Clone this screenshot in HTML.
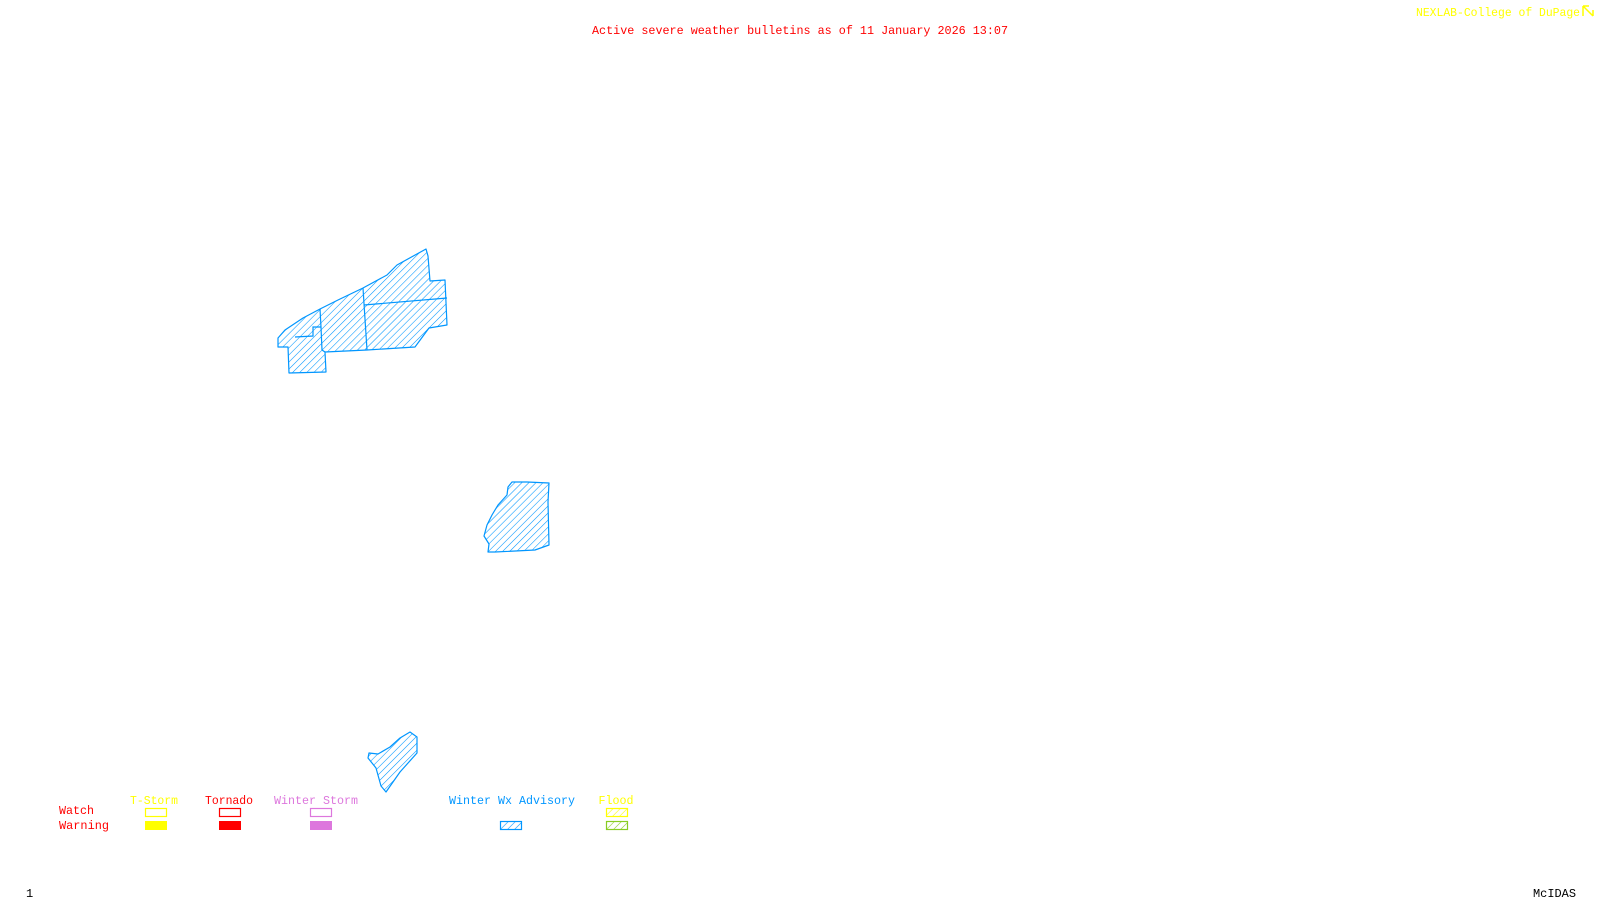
<!DOCTYPE html>
<html><head><meta charset="utf-8"><style>
html,body{margin:0;padding:0;background:#fff;width:1600px;height:900px;overflow:hidden}
svg{display:block}
text{font-family:"Liberation Mono","DejaVu Sans Mono",monospace;font-size:12px}
</style></head><body>
<svg width="1600" height="900" viewBox="0 0 1600 900" xmlns="http://www.w3.org/2000/svg">
<defs>
<pattern id="h" patternUnits="userSpaceOnUse" width="5" height="5" patternTransform="rotate(45)">
<line x1="0" y1="0" x2="0" y2="5" stroke="#0096ff" stroke-width="1.1"/>
</pattern>
<pattern id="hy" patternUnits="userSpaceOnUse" width="5" height="5" patternTransform="rotate(45)">
<line x1="0" y1="0" x2="0" y2="5" stroke="#ffff00" stroke-width="1.2"/>
</pattern>
<pattern id="hg" patternUnits="userSpaceOnUse" width="5" height="5" patternTransform="rotate(45)">
<line x1="0" y1="0" x2="0" y2="5" stroke="#88cc22" stroke-width="1.2"/>
</pattern>
<pattern id="hb" patternUnits="userSpaceOnUse" width="5" height="5" patternTransform="rotate(45)">
<line x1="0" y1="0" x2="0" y2="5" stroke="#0096ff" stroke-width="1.2"/>
</pattern>
</defs>
<text x="800" y="34" fill="#ff0000" text-anchor="middle" textLength="416" lengthAdjust="spacingAndGlyphs">Active severe weather bulletins as of 11 January 2026 13:07</text>
<text x="1416" y="16" fill="#ffff00" textLength="164" lengthAdjust="spacingAndGlyphs">NEXLAB-College of DuPage</text>
<path d="M1583 6h6M1583 6v10M1583 6l10 10M1593 10v6" stroke="#ffff00" stroke-width="1.5" fill="none"/>

<g stroke="#0096ff" stroke-width="1.2" fill="url(#h)" stroke-linejoin="round">
<polygon points="278,338 285,330 303,318 320,309 338,300 363,288 387,275 397,265 426,249 428,256 430,281 445,280 447,325 429,328 415,347 367,350 325,352 326,372 289,373 288,347 278,347"/>
<polygon points="512,482 527,482 549,483 548,502 549,545 535,550 495,552 488,552 489,544 484,536 487,525 492,515 498,505 507,495 508,487"/>
<polygon points="410,732 417,737 417,753 400,772 386,792 381,786 376,768 368,758 369,753 378,754 390,747 400,738"/>
</g>
<g stroke="#0096ff" stroke-width="1.2" fill="none">
<polyline points="320,309 321,327 322,350 325,352"/>
<polyline points="363,288 367,350"/>
<polyline points="364,305 447,298"/>
<polyline points="295,337 313,336 313,327 321,327"/>
</g>

<g text-anchor="middle">
<text x="154" y="804" fill="#ffff00" textLength="48" lengthAdjust="spacingAndGlyphs">T-Storm</text>
<text x="229" y="804" fill="#ff0000" textLength="48" lengthAdjust="spacingAndGlyphs">Tornado</text>
<text x="316" y="804" fill="#dd77dd" textLength="84" lengthAdjust="spacingAndGlyphs">Winter Storm</text>
<text x="512" y="804" fill="#0096ff" textLength="126" lengthAdjust="spacingAndGlyphs">Winter Wx Advisory</text>
<text x="616" y="804" fill="#ffff00" textLength="35" lengthAdjust="spacingAndGlyphs">Flood</text>
</g>
<text x="59" y="814" fill="#ff0000" textLength="35" lengthAdjust="spacingAndGlyphs">Watch</text>
<text x="59" y="829" fill="#ff0000" textLength="50" lengthAdjust="spacingAndGlyphs">Warning</text>
<rect x="145.5" y="808.5" width="21" height="8" fill="none" stroke="#ffff00" stroke-width="1.2"/>
<rect x="145" y="821" width="22" height="9" fill="#ffff00"/>
<rect x="219.5" y="808.5" width="21" height="8" fill="none" stroke="#ff0000" stroke-width="1.2"/>
<rect x="219" y="821" width="22" height="9" fill="#ff0000"/>
<rect x="310.5" y="808.5" width="21" height="8" fill="none" stroke="#dd77dd" stroke-width="1.2"/>
<rect x="310" y="821" width="22" height="9" fill="#dd77dd"/>
<rect x="500.5" y="821.5" width="21" height="8" fill="url(#hb)" stroke="#0096ff" stroke-width="1.2"/>
<rect x="606.5" y="808.5" width="21" height="8" fill="url(#hy)" stroke="#ffff00" stroke-width="1.2"/>
<rect x="606.5" y="821.5" width="21" height="8" fill="url(#hg)" stroke="#88cc22" stroke-width="1.2"/>

<text x="26" y="897" fill="#000">1</text>
<text x="1576" y="897" fill="#000" text-anchor="end" textLength="43" lengthAdjust="spacingAndGlyphs">McIDAS</text>
</svg>
</body></html>
